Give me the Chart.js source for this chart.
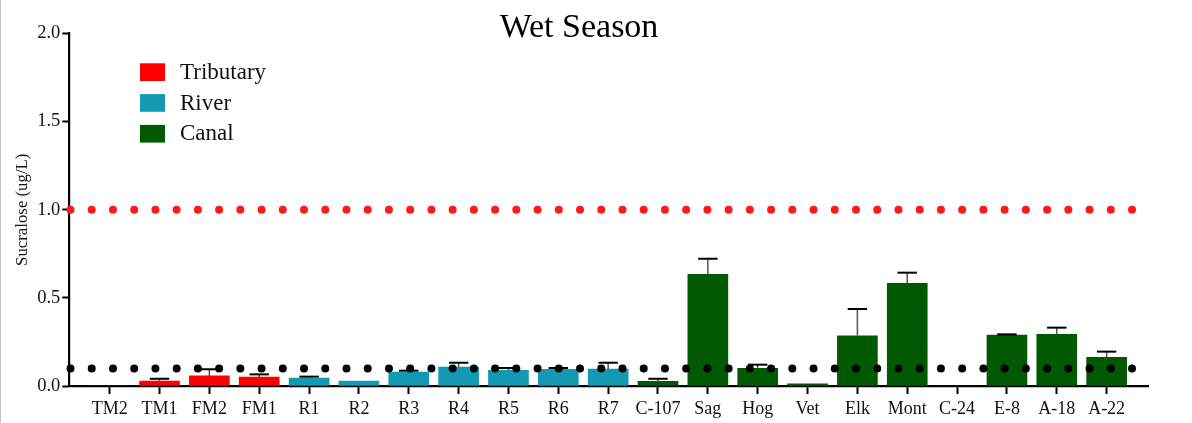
<!DOCTYPE html>
<html>
<head>
<meta charset="utf-8">
<script src="https://cdn.jsdelivr.net/npm/chart.js@4/dist/chart.umd.min.js"></script>
<style>
  html, body { margin: 0; padding: 0; background: #fff; }
  #wrap { position: relative; width: 1192px; height: 423px; }
  #edge { position: absolute; left: 0; top: 0; width: 1px; height: 423px; background: #c4c4c4; }
  canvas { display: block; }
</style>
</head>
<body>
<div id="wrap">
  <canvas id="c" width="1192" height="423"></canvas>
  <div id="edge"></div>
</div>
<script>
// ---- Data ----
const categories = ['TM2','TM1','FM2','FM1','R1','R2','R3','R4','R5','R6','R7','C-107','Sag','Hog','Vet','Elk','Mont','C-24','E-8','A-18','A-22'];
const categoryGroups = ['Tributary','Tributary','Tributary','Tributary',
  'River','River','River','River','River','River','River',
  'Canal','Canal','Canal','Canal','Canal','Canal','Canal','Canal','Canal','Canal'];
const meanValues = [0, 0.028, 0.057, 0.051, 0.045, 0.028, 0.079, 0.108, 0.089, 0.095, 0.096,
  0.027, 0.634, 0.100, 0.013, 0.285, 0.583, 0, 0.289, 0.293, 0.163];
const errorValues = [0, 0.013, 0.038, 0.015, 0.008, 0, 0.008, 0.024, 0.013, 0.007, 0.036,
  0.014, 0.088, 0.021, 0, 0.152, 0.060, 0, 0.004, 0.038, 0.032];
const groupNames = ['Tributary', 'River', 'Canal'];
const thresholdValues = [1.0, 0.1];
const yTickValues = [0, 0.5, 1.0, 1.5, 2.0];
const chartTitle = 'Wet Season';
const yAxisTitle = 'Sucralose (ug/L)';

// ---- Styles ----
const groupColors = { Tributary: '#FF0000', River: '#1399B4', Canal: '#015A01' };
const thresholdColors = ['#FF1A1A', '#000000'];
const SERIF = "'Liberation Serif', 'DejaVu Serif', serif";
const X_MIN = -0.81, X_MAX = 20.83;

const barDatasets = groupNames.map(g => ({
  type: 'bar',
  label: g,
  data: categories.map((c, i) => ({ x: i, y: meanValues[i], err: errorValues[i] }))
                  .filter((d, i) => categoryGroups[i] === g),
  backgroundColor: groupColors[g],
  borderWidth: 0,
  barThickness: 40,
  grouped: false,
  order: 2
}));

const lineDatasets = thresholdValues.map((v, k) => ({
  type: 'line',
  label: 'threshold-' + v,
  data: [{ x: X_MIN, y: v }, { x: X_MAX, y: v }],
  borderColor: thresholdColors[k],
  borderWidth: 8,
  borderDash: [0, 21.23],
  borderDashOffset: -1.2,
  borderCapStyle: 'round',
  pointRadius: 0,
  fill: false,
  clip: false,
  order: 1
}));

const errorBarPlugin = {
  id: 'errorBars',
  afterDatasetDraw(chart, args) {
    const ds = chart.data.datasets[args.index];
    if (ds.type !== 'bar') return;
    const ctx = chart.ctx;
    const yScale = chart.scales.y;
    args.meta.data.forEach((el, j) => {
      const d = ds.data[j];
      if (!d.err) return;
      const yTop = yScale.getPixelForValue(d.y + d.err);
      ctx.save();
      ctx.strokeStyle = '#555555';
      ctx.lineWidth = 1.5;
      ctx.beginPath();
      ctx.moveTo(el.x, el.y);
      ctx.lineTo(el.x, yTop);
      ctx.stroke();
      ctx.strokeStyle = '#000000';
      ctx.lineWidth = 2;
      ctx.beginPath();
      ctx.moveTo(el.x - 9.7, yTop);
      ctx.lineTo(el.x + 9.7, yTop);
      ctx.stroke();
      ctx.restore();
    });
  }
};

const decorPlugin = {
  id: 'decor',
  afterDraw(chart) {
    const ctx = chart.ctx;
    ctx.save();
    // title
    ctx.fillStyle = '#000';
    ctx.font = '34px ' + SERIF;
    ctx.textAlign = 'center';
    ctx.textBaseline = 'alphabetic';
    ctx.fillText(chartTitle, 579, 36.7);
    // legend
    ctx.font = '23px ' + SERIF;
    ctx.textAlign = 'left';
    ctx.textBaseline = 'middle';
    chart.data.datasets.filter(d => d.type === 'bar').forEach((d, i) => {
      const y = 63.3 + i * 30.8;
      ctx.fillStyle = d.backgroundColor;
      ctx.fillRect(140, y, 25, 17.7);
      ctx.fillStyle = '#111';
      ctx.fillText(d.label, 180, y + 9.5);
    });
    ctx.restore();
  }
};

new Chart(document.getElementById('c'), {
  data: { datasets: [...barDatasets, ...lineDatasets] },
  options: {
    responsive: false,
    animation: false,
    devicePixelRatio: 1,
    layout: { padding: { top: 33.5, right: 44, bottom: 0, left: 0 } },
    plugins: {
      legend: { display: false },
      title: { display: false },
      tooltip: { enabled: false }
    },
    scales: {
      x: {
        type: 'linear',
        offset: false,
        min: X_MIN,
        max: X_MAX,
        afterBuildTicks(scale) {
          scale.ticks = categories.map((c, i) => ({ value: i }));
        },
        afterFit(scale) { scale.height = 37; },
        ticks: {
          autoSkip: false,
          maxRotation: 0,
          padding: 4,
          color: '#111',
          font: { family: SERIF, size: 18 },
          callback: (v) => categories[v]
        },
        grid: {
          display: true,
          offset: false,
          drawOnChartArea: false,
          tickLength: 8,
          tickWidth: 2,
          tickColor: '#000'
        },
        border: { display: true, color: '#000', width: 2.2 }
      },
      y: {
        type: 'linear',
        min: 0,
        max: 2,
        afterBuildTicks(scale) {
          scale.ticks = yTickValues.map(v => ({ value: v }));
        },
        afterFit(scale) { scale.width = 69.3; },
        ticks: {
          padding: 2,
          color: '#111',
          font: { family: SERIF, size: 18.5 },
          callback: (v) => Number(v).toFixed(1)
        },
        grid: {
          display: true,
          drawOnChartArea: false,
          tickLength: 7,
          tickWidth: 2,
          tickColor: '#000'
        },
        border: { display: true, color: '#000', width: 2.2 },
        title: {
          display: true,
          text: yAxisTitle,
          color: '#111',
          font: { family: SERIF, size: 16.8 },
          padding: { top: 13, bottom: 0 }
        }
      }
    }
  },
  plugins: [errorBarPlugin, decorPlugin]
});
</script>
</body>
</html>
